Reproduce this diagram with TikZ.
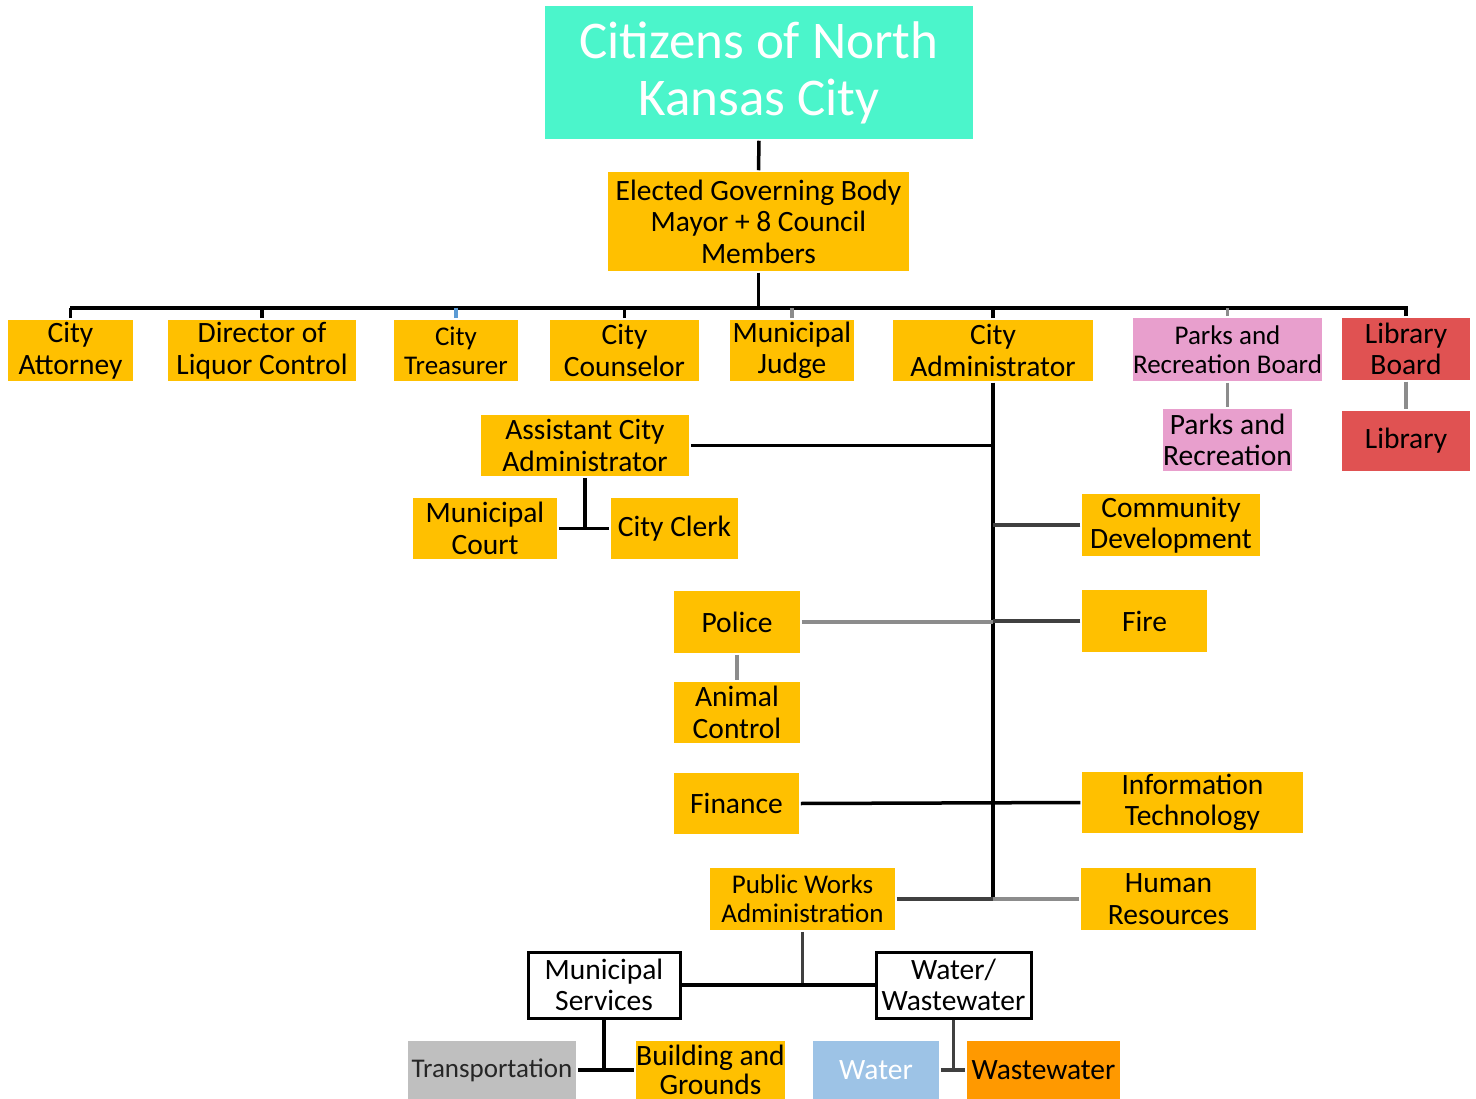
\documentclass[tikz,border=0pt]{standalone}
\usepackage{fontspec}
\setmainfont{Carlito}
\usetikzlibrary{positioning,calc}
\definecolor{gold}{HTML}{FFC000}
\definecolor{aqua}{HTML}{4BF5CB}
\definecolor{pinkbox}{HTML}{E89FCD}
\definecolor{redbox}{HTML}{E05252}
\definecolor{skybox}{HTML}{9DC3E6}
\definecolor{orangebox}{HTML}{FF9900}
\definecolor{greybox}{HTML}{BFBFBF}
\definecolor{linegrey}{HTML}{8C8C8C}
\definecolor{linedark}{HTML}{404040}
\definecolor{treasblue}{HTML}{5B9BD5}

\begin{document}
\begin{tikzpicture}[x=1pt, y=-1pt, line width=3.5pt]
\tikzstyle{dept}=[fill=gold, text=black, align=center, inner sep=0pt, font=\fontsize{29.5}{31.5}\selectfont]
\tikzstyle{small}=[font=\fontsize{27}{29}\selectfont]
\tikzstyle{wbox}=[dept, fill=white, draw=black, line width=3pt]
\tikzstyle{blk}=[draw=black]
\tikzstyle{gry}=[draw=linegrey]
\tikzstyle{dkg}=[draw=linedark]
\useasboundingbox (0,0) rectangle (1476,1099);

% top
\node[dept, fill=aqua, text=white, minimum width=428, minimum height=133, font=\fontsize{53}{57}\selectfont] (citizens) at (759,72.5) {Citizens of North\\Kansas City};
\node[dept, minimum width=301, minimum height=99] (elected) at (758.5,221.5) {Elected Governing Body\\Mayor + 8 Council\\Members};

% first row
\node[dept, minimum width=125, minimum height=61] (attorney) at (70.5,350.5) {City\\Attorney};
\node[dept, minimum width=188, minimum height=61] (liquor) at (262,350.5) {Director of\\Liquor Control};
\node[dept, small, minimum width=124, minimum height=61] (treasurer) at (456,350.5) {City\\Treasurer};
\node[dept, minimum width=149, minimum height=61] (counselor) at (624.5,350.5) {City\\Counselor};
\node[dept, minimum width=124, minimum height=61] (judge) at (792,350.5) {Municipal\\Judge};
\node[dept, minimum width=200, minimum height=61] (admin) at (993,350.5) {City\\Administrator};
\node[dept, small, fill=pinkbox, minimum width=189, minimum height=63] (prboard) at (1227.5,349.5) {Parks and\\Recreation Board};
\node[dept, fill=redbox, minimum width=128, minimum height=62] (libboard) at (1406,349) {Library\\Board};
\node[dept, fill=pinkbox, minimum width=125, minimum height=62] (parks) at (1227.5,440) {Parks and\\Recreation};
\node[dept, fill=redbox, minimum width=128, minimum height=60] (library) at (1406,441) {Library};

% under the administrator
\node[dept, minimum width=208, minimum height=61] (asst) at (585,445.5) {Assistant City\\Administrator};
\node[dept, minimum width=144, minimum height=61] (court) at (485,528.5) {Municipal\\Court};
\node[dept, minimum width=127, minimum height=61] (clerk) at (674.5,528.5) {City Clerk};
\node[dept, minimum width=178, minimum height=62] (commdev) at (1171,525) {Community\\Development};
\node[dept, minimum width=126, minimum height=62] (police) at (737,622) {Police};
\node[dept, minimum width=125, minimum height=62] (fire) at (1144.5,621) {Fire};
\node[dept, minimum width=126, minimum height=61] (animal) at (737,712.5) {Animal\\Control};
\node[dept, minimum width=125, minimum height=61] (finance) at (736.5,803.5) {Finance};
\node[dept, minimum width=221, minimum height=61] (infotech) at (1192.5,802.5) {Information\\Technology};
\node[dept, small, minimum width=185, minimum height=62] (pubworks) at (802.5,899) {Public Works\\Administration};
\node[dept, minimum width=175, minimum height=62] (hr) at (1168.5,899) {Human\\Resources};

% public works
\node[wbox, minimum width=152, minimum height=66] (munserv) at (604,985) {Municipal\\Services};
\node[wbox, minimum width=155, minimum height=66] (waterww) at (953.5,985) {Water/\\Wastewater};
\node[dept, small, fill=greybox, text=black!85, minimum width=168, minimum height=58] (transp) at (492,1070) {Transportation};
\node[dept, minimum width=147, minimum height=58, font=\fontsize{29.5}{29.5}\selectfont] (building) at (710.5,1070) {Building and\\Grounds};
\node[dept, fill=skybox, text=white, minimum width=126, minimum height=58] (water) at (876,1070) {Water};
\node[dept, fill=orangebox, minimum width=153, minimum height=58] (wastewater) at (1043.5,1070) {Wastewater};

% bus
\coordinate (busL) at (70,308);
\coordinate (busR) at (1408,308);
\draw[blk] (citizens.south) -- (elected.north);
\draw[blk] (elected.south) -- (elected.south |- busL);
\draw[blk] (busL) -- (busR);
\foreach \n in {attorney,liquor,counselor,admin,libboard}
  \draw[blk] (\n.north) -- (\n.north |- busL);
\draw[draw=treasblue] (treasurer.north) -- (treasurer.north |- busL);
\foreach \n in {judge,prboard}
  \draw[gry] (\n.north) -- (\n.north |- busL);
\draw[gry] (prboard.south) -- (parks.north);
\draw[gry] (libboard.south) -- (library.north);

% administrator trunk
\draw[blk] (admin.south) -- (admin.south |- pubworks.east);
\draw[blk] (asst.east) -- (asst.east -| admin.south);
\draw[blk] (asst.south) -- (asst.south |- clerk.west);
\draw[blk] (court.east) -- (clerk.west);
\draw[dkg] (commdev.west) -- (commdev.west -| admin.south);
\draw[gry] (police.east) -- (police.east -| admin.south);
\draw[dkg] (fire.west) -- (fire.west -| admin.south);
\draw[gry] (police.south) -- (animal.north);
\draw[blk] (finance.east) -- (infotech.west);
\draw[dkg] (pubworks.east) -- (pubworks.east -| admin.south);
\draw[gry] (hr.west) -- (hr.west -| admin.south);

% public works branches
\draw[dkg] (pubworks.south) -- (pubworks.south |- munserv.east);
\draw[blk] (munserv.east) -- (waterww.west);
\draw[blk] (munserv.south) -- (munserv.south |- transp.east);
\draw[blk] (transp.east) -- (building.west);
\draw[dkg] (waterww.south) -- (waterww.south |- water.east);
\draw[dkg] (water.east) -- (wastewater.west);
\end{tikzpicture}
\end{document}
